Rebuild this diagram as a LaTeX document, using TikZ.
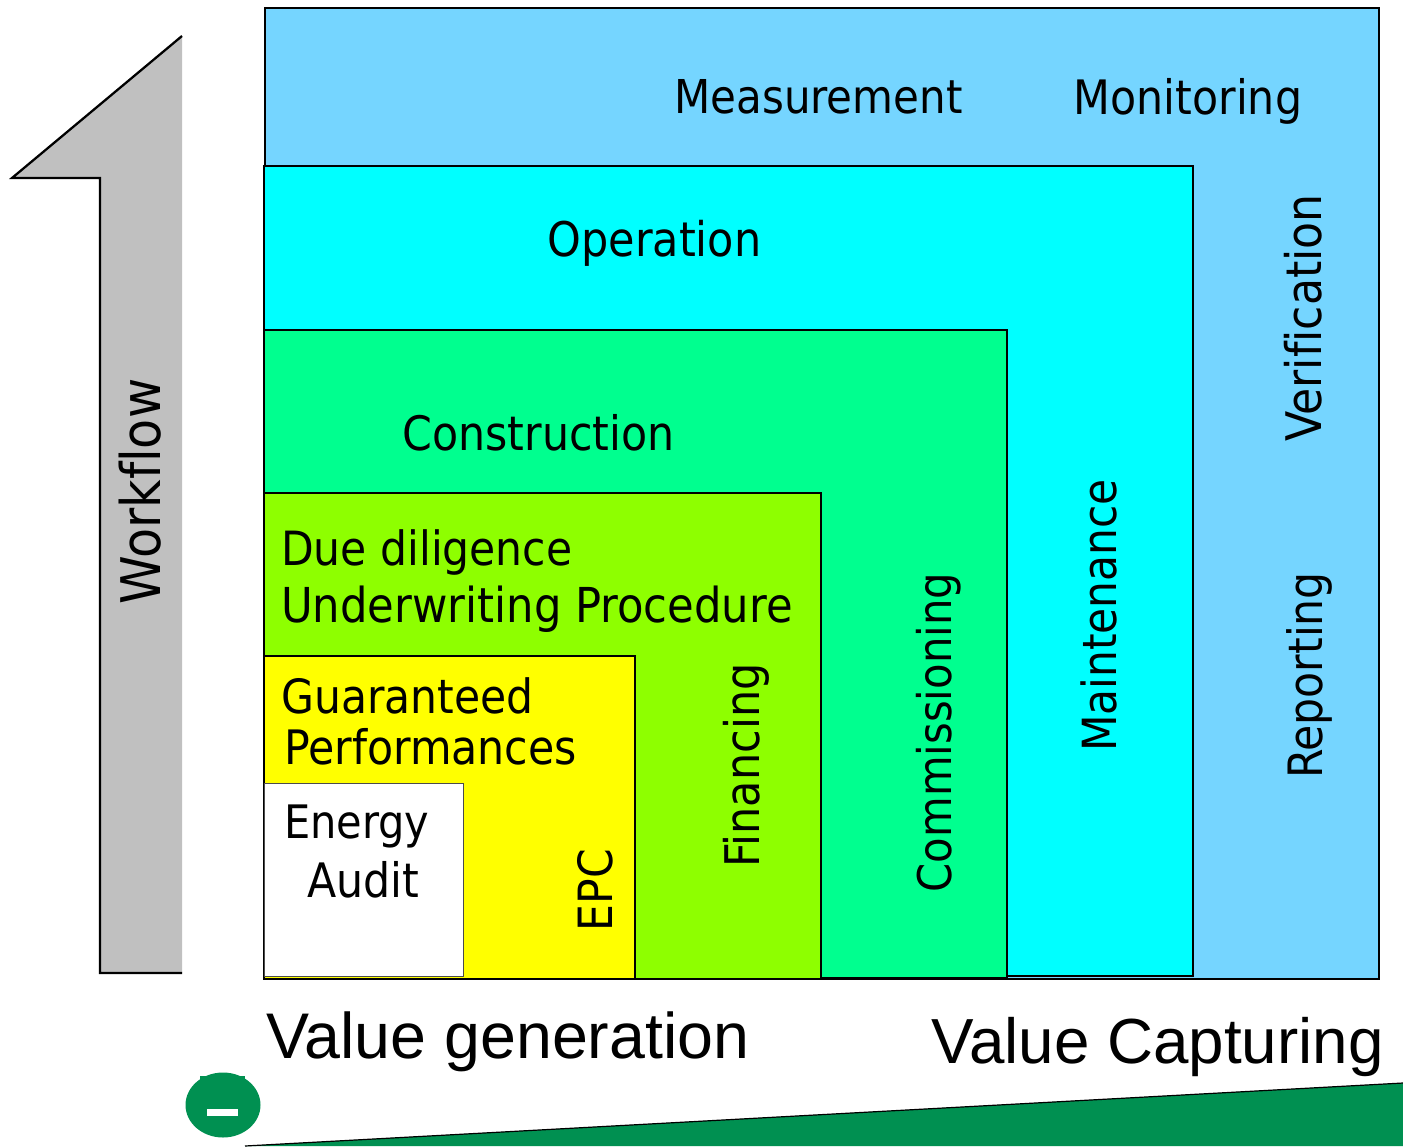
\documentclass[tikz,border=0pt]{standalone}
\usepackage{fontspec}
\setmainfont[RawFeature={-liga}]{DejaVu Sans Condensed}
\newfontfamily\arialf{Liberation Sans}
\definecolor{skyb}{HTML}{75D5FF}
\definecolor{cyanb}{HTML}{00FFFF}
\definecolor{greenb}{HTML}{00FF8F}
\definecolor{limeb}{HTML}{8EFF00}
\definecolor{yellowb}{HTML}{FFFF00}
\definecolor{wedgeg}{HTML}{009051}
\definecolor{greyb}{HTML}{C0C0C0}
\tikzset{
  lab/.style={font=\fontsize{#1}{40}\selectfont,text=black,inner sep=0pt,align=left},
  lab/.default=35,
  bigl/.style={font=\arialf\fontsize{#1}{52}\selectfont,text=black,inner sep=0pt},
}
\begin{document}
\begin{tikzpicture}[x=0.75pt,y=-0.75pt]
\useasboundingbox (0,0) rectangle (1403,1146);
% arrow
\fill[greyb] (182,36) -- (12,178) -- (100,178) -- (100,973) -- (182,973) -- cycle;
\draw[line width=1.7pt,line join=miter] (182,36) -- (12,178) -- (100,178) -- (100,973) -- (182,973);
% panels
\fill[skyb,draw=black,line width=0.9pt] (265,8) rectangle (1379,979);
\fill[cyanb,draw=black,line width=0.9pt] (264,166) rectangle (1193,976);
\fill[greenb,draw=black,line width=0.9pt] (264,330) rectangle (1007,978);
\fill[limeb,draw=black,line width=0.9pt] (264,493) rectangle (821,979);
\fill[yellowb,draw=black,line width=0.9pt] (264,656) rectangle (635,979);
\fill[white,draw=black!70,line width=0.6pt] (264,783) rectangle (463,976);
% labels
\node[lab] (meas) at (818.5,97) {Measurement};
\node[lab=35.6] (moni) at (1188,101) {Monitoring};
\node[lab=35.8] (oper) at (654.5,243) {Operation};
\node[lab=35.6] (cons) at (538.5,433) {Construction};
\node[lab=35.4,anchor=west] (dued) at (281,552) {Due diligence};
\node[lab=36.1,anchor=west] (unde) at (281,609) {Underwriting Procedure};
\node[lab=35.4,anchor=west] (guar) at (281,696) {Guaranteed};
\node[lab=35.6,anchor=west] (perf) at (284,747) {Performances};
\node[lab=34.6,anchor=west] (ener) at (284,826) {Energy};
\node[lab=35.6,anchor=west] (audi) at (307,880) {Audit};
\node[lab=35.4,rotate=90] (epc) at (595,890) {EPC};
\node[lab=35.8,rotate=90] (fina) at (746,765.5) {Financing};
\node[lab=34.8,rotate=90] (comm) at (939,732.5) {Commissioning};
\node[lab=35.3,rotate=90] (main) at (1099,615.5) {Maintenance};
\node[lab=36.8,rotate=90] (veri) at (1303,318) {Verification};
\node[lab=35.5,rotate=90] (repo) at (1309,675.5) {Reporting};
\node[lab=41,rotate=90] (work) at (140.5,491.5) {Workflow};
\node[bigl=48.4,anchor=west] (vgen) at (266,1042) {Value generation};
\node[bigl=47.8,anchor=east] (vcap) at (1384,1047) {Value Capturing};
% wedge and minus sign
\fill[wedgeg] (245,1146) -- (1403,1083) -- (1403,1146) -- cycle;
\draw[line width=0.9pt] (245,1146) -- (1403,1083);
\fill[wedgeg] (223,1105) ellipse [x radius=37.5,y radius=32.5];
\fill[wedgeg] (200,1076) rectangle (245,1090);
\fill[white] (207,1109) rectangle (238,1116);
\end{tikzpicture}
\end{document}
